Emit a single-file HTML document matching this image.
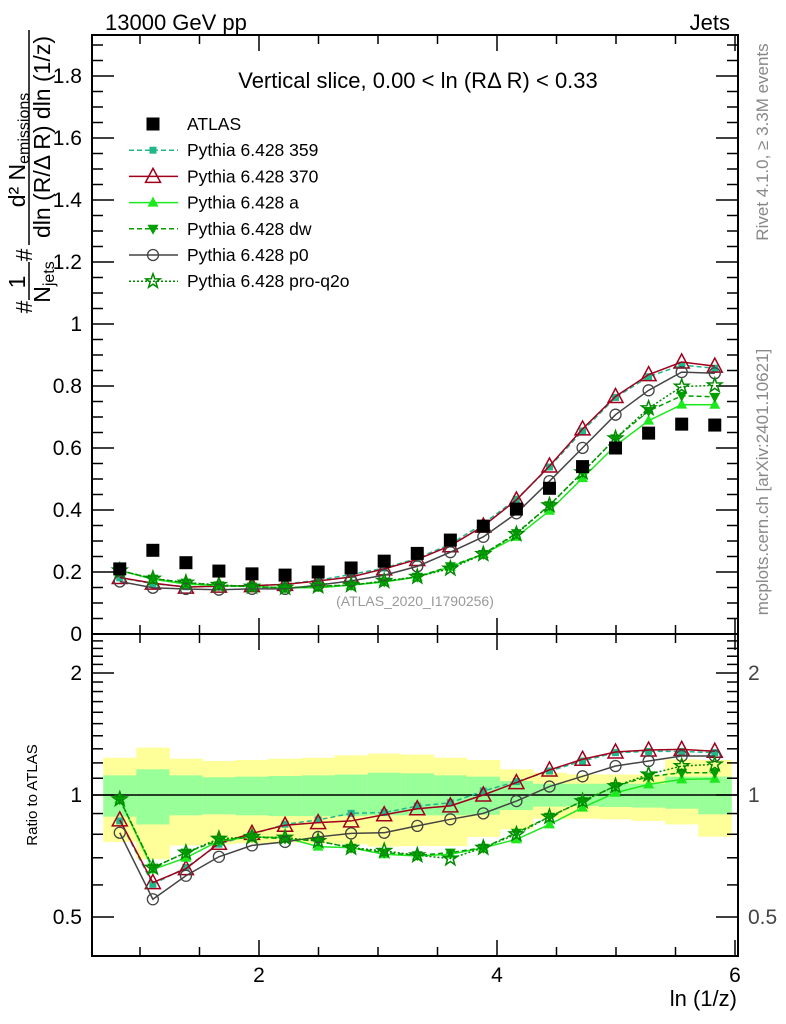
<!DOCTYPE html>
<html><head><meta charset="utf-8">
<style>
html,body{margin:0;padding:0;background:#fff;}
svg{display:block;font-family:"Liberation Sans",sans-serif;}
</style></head>
<body>
<svg id="chart" width="786" height="1024" viewBox="0 0 786 1024">
  <g id="bands"></g>
  <g id="axes"></g>
  <g id="series"></g>
  <text x="105" y="30" font-size="22">13000 GeV pp</text>
  <text x="730" y="30" font-size="22" text-anchor="end">Jets</text>
  <text x="418" y="88" font-size="22" text-anchor="middle">Vertical slice, 0.00 &lt; ln (RΔ R) &lt; 0.33</text>
  <text x="415" y="606" font-size="14" fill="#999" text-anchor="middle">(ATLAS_2020_I1790256)</text>
  <text transform="translate(768,142) rotate(-90)" font-size="17" fill="#888" text-anchor="middle">Rivet 4.1.0, ≥ 3.3M events</text>
  <text transform="translate(768,482) rotate(-90)" font-size="17" fill="#888" text-anchor="middle">mcplots.cern.ch [arXiv:2401.10621]</text>
  <g font-size="23">
    <text transform="translate(25,150) rotate(-90)" text-anchor="middle">d² N<tspan font-size="16" dy="4">emissions</tspan></text>
    <line x1="29" y1="30" x2="29" y2="245" stroke="#000" stroke-width="1.5"/>
    <text transform="translate(50,137) rotate(-90)" text-anchor="middle">dln (R/Δ R) dln (1/z)</text>
    <text transform="translate(32,255) rotate(-90)" text-anchor="middle">#</text>
    <text transform="translate(25,282) rotate(-90)" text-anchor="middle">1</text>
    <line x1="29" y1="262" x2="29" y2="300" stroke="#000" stroke-width="1.5"/>
    <text transform="translate(50,282) rotate(-90)" text-anchor="middle">N<tspan font-size="16" dy="4">jets</tspan></text>
    <text transform="translate(32,307) rotate(-90)" text-anchor="middle">#</text>
  </g>
  <text transform="translate(37,795) rotate(-90)" font-size="15" text-anchor="middle">Ratio to ATLAS</text>
  <text x="737" y="1006" font-size="22" text-anchor="end">ln (1/z)</text>
  <g id="legend"></g>
</svg>
<script>
const xPoints = [0.83,1.108,1.386,1.663,1.941,2.219,2.497,2.774,3.052,3.33,3.608,3.885,4.163,4.441,4.719,4.996,5.274,5.552,5.83];
const atlas = [0.21,0.27,0.23,0.203,0.194,0.19,0.2,0.213,0.235,0.26,0.303,0.348,0.403,0.47,0.54,0.6,0.648,0.677,0.674];
const r359 = [0.863,0.602,0.662,0.756,0.8,0.847,0.868,0.901,0.905,0.939,0.957,1.023,1.079,1.146,1.213,1.272,1.281,1.281,1.272];
const r370 = [0.868,0.608,0.658,0.76,0.804,0.842,0.855,0.863,0.894,0.925,0.94,1.0,1.073,1.153,1.225,1.277,1.291,1.296,1.282];
const rA = [0.976,0.655,0.7,0.77,0.788,0.785,0.746,0.741,0.714,0.707,0.714,0.741,0.777,0.846,0.931,1.013,1.062,1.093,1.097];
const rDW = [0.976,0.662,0.721,0.773,0.788,0.78,0.77,0.741,0.721,0.71,0.721,0.741,0.807,0.884,0.966,1.052,1.11,1.135,1.135];
const rP0 = [0.807,0.553,0.632,0.704,0.751,0.766,0.788,0.804,0.807,0.839,0.871,0.901,0.966,1.049,1.112,1.179,1.213,1.248,1.248];
const rQ2O = [0.976,0.662,0.721,0.78,0.788,0.785,0.77,0.741,0.728,0.71,0.697,0.741,0.8,0.884,0.966,1.052,1.124,1.179,1.19];
const yellowHi = [1.236,1.309,1.229,1.213,1.22,1.229,1.236,1.253,1.265,1.258,1.236,1.22,1.157,1.135,1.124,1.124,1.124,1.225,1.22];
const yellowLo = [0.766,0.694,0.751,0.756,0.76,0.763,0.76,0.756,0.746,0.748,0.748,0.788,0.823,0.874,0.874,0.871,0.863,0.846,0.789];
const greenHi = [1.118,1.157,1.118,1.106,1.11,1.114,1.118,1.123,1.135,1.131,1.118,1.11,1.083,1.066,1.066,1.066,1.066,1.11,1.11];
const greenLo = [0.884,0.846,0.891,0.896,0.891,0.887,0.887,0.887,0.891,0.891,0.891,0.894,0.918,0.936,0.939,0.934,0.931,0.925,0.896];
const mainTicks = [0,0.2,0.4,0.6,0.8,1,1.2,1.4,1.6,1.8];
const mainTickLabels = ["0","0.2","0.4","0.6","0.8","1","1.2","1.4","1.6","1.8"];
const ratioTicks = [0.5,1,2];
const ratioTickLabels = ["0.5","1","2"];
const xTicks = [2,4,6];
const xTickLabels = ["2","4","6"];

const NS="http://www.w3.org/2000/svg";
const L=92,R=738,T=35,MB=634,RB=956;
const binW=0.2777;
const X=v=>259+(v-2)*119;
const YM=v=>634-v*310;
const YR=v=>795-Math.log2(v)*122;
function mk(tag,attrs,parent){const e=document.createElementNS(NS,tag);for(const k in attrs)e.setAttribute(k,attrs[k]);parent.appendChild(e);return e;}

const bands=document.getElementById('bands');
for(let i=0;i<xPoints.length;i++){
  const x0=X(xPoints[i]-binW/2), x1=X(xPoints[i]+binW/2);
  const y=mk('rect',{x:x0,y:YR(yellowHi[i]),width:x1-x0+0.5,height:YR(yellowLo[i])-YR(yellowHi[i]),fill:'#ffff99'},bands);
  
  
  const g=mk('rect',{x:x0,y:YR(greenHi[i]),width:x1-x0+0.5,height:YR(greenLo[i])-YR(greenHi[i]),fill:'#99ff99'},bands);
  
  
}

const ax=document.getElementById('axes');
mk('rect',{x:L,y:T,width:R-L,height:MB-T,fill:'none',stroke:'#000','stroke-width':2},ax);
mk('rect',{x:L,y:MB,width:R-L,height:RB-MB,fill:'none',stroke:'#000','stroke-width':2},ax);
mk('line',{x1:L,y1:YR(1),x2:R,y2:YR(1),stroke:'#000','stroke-width':1.5},ax);
for(let v=1;v<=6.001;v+=0.5){
  const x=X(v); if(x<L||x>R)continue;
  const maj=Math.abs(v-Math.round(v))<1e-6&&Math.round(v)%2===0;
  const len=maj?16:9;
  [[T,1],[MB,-1],[MB,1],[RB,-1]].forEach(([y0,d])=>mk('line',{x1:x,y1:y0,x2:x,y2:y0+d*len,stroke:'#000','stroke-width':1.5},ax));
}
xTicks.forEach((v,i)=>{const t=mk('text',{x:X(v),y:982,'font-size':21,'text-anchor':'middle'},ax);t.textContent=xTickLabels[i];
  
  });
for(let k=0;k<=38;k++){
  const v=k*0.05,y=YM(v); if(y<T)continue;
  const len=(k%4===0)?22:11;
  mk('line',{x1:L,y1:y,x2:L+len,y2:y,stroke:'#000','stroke-width':1.5},ax);
  mk('line',{x1:R,y1:y,x2:R-len,y2:y,stroke:'#000','stroke-width':1.5},ax);
}
mainTicks.forEach((v,i)=>{const t=mk('text',{x:82,y:YM(v)+7,'font-size':21,'text-anchor':'end'},ax);t.textContent=mainTickLabels[i];
  
  });
const rt=[0.4,0.5,0.6,0.7,0.8,0.9,1,1.1,1.2,1.3,1.4,1.5,1.6,1.7,1.8,1.9,2,2.1,2.2,2.3,2.4];
rt.forEach(v=>{const y=YR(v); if(y<MB||y>RB)return;
  const len=(v===0.5||v===1||v===2)?22:11;
  mk('line',{x1:L,y1:y,x2:L+len,y2:y,stroke:'#000','stroke-width':1.5},ax);
  mk('line',{x1:R,y1:y,x2:R-len,y2:y,stroke:'#000','stroke-width':1.5},ax);});
ratioTicks.forEach((v,i)=>{
  const t=mk('text',{x:82,y:YR(v)+7,'font-size':21,'text-anchor':'end'},ax);t.textContent=ratioTickLabels[i];
  
  
  const t2=mk('text',{x:748,y:YR(v)+7,'font-size':21,'fill':'#444'},ax);t2.textContent=ratioTickLabels[i];
  
  });

function marker(g,type,x,y,c){
  if(type==='sq') mk('rect',{x:x-6.5,y:y-6.5,width:13,height:13,fill:'#000'},g);
  else if(type==='sqs') mk('rect',{x:x-3.5,y:y-3.5,width:7,height:7,fill:c},g);
  else if(type==='tri') mk('path',{d:`M${x},${y-8}L${x+7.5},${y+6}L${x-7.5},${y+6}Z`,fill:'none',stroke:c,'stroke-width':1.5},g);
  else if(type==='triu') mk('path',{d:`M${x},${y-6}L${x+5.5},${y+4}L${x-5.5},${y+4}Z`,fill:c},g);
  else if(type==='trid') mk('path',{d:`M${x},${y+6}L${x+5.5},${y-4}L${x-5.5},${y-4}Z`,fill:c},g);
  else if(type==='circ') mk('circle',{cx:x,cy:y,r:5.5,fill:'none',stroke:c,'stroke-width':1.3},g);
  else if(type==='star'){let d='';for(let k=0;k<10;k++){const a=-Math.PI/2+k*Math.PI/5,r=k%2?3:7.5;d+=(k?'L':'M')+(x+r*Math.cos(a)).toFixed(1)+','+(y+r*Math.sin(a)).toFixed(1);}mk('path',{d:d+'Z',fill:'none',stroke:c,'stroke-width':1.5},g);}
}
const seriesDefs=[
  {name:'359',r:r359,c:'#20b88a',dash:'5,3',m:'sqs'},
  {name:'370',r:r370,c:'#a0001c',dash:'',m:'tri'},
  {name:'a',r:rA,c:'#1ee81e',dash:'',m:'triu'},
  {name:'dw',r:rDW,c:'#00a000',dash:'5,3',m:'trid'},
  {name:'p0',r:rP0,c:'#444444',dash:'',m:'circ'},
  {name:'pro-q2o',r:rQ2O,c:'#008a00',dash:'2,2',m:'star'}
];
const sg=document.getElementById('series');
seriesDefs.forEach(s=>{
  const g=mk('g',{},sg);
  
  
  const main=s.r.map((v,i)=>v*atlas[i]);
  const pm=xPoints.map((x,i)=>X(x)+','+YM(main[i])).join(' ');
  const pr=xPoints.map((x,i)=>X(x)+','+YR(s.r[i])).join(' ');
  mk('polyline',{points:pm,fill:'none',stroke:s.c,'stroke-width':1.5,'stroke-dasharray':s.dash},g);
  mk('polyline',{points:pr,fill:'none',stroke:s.c,'stroke-width':1.5,'stroke-dasharray':s.dash},g);
  xPoints.forEach((x,i)=>{marker(g,s.m,X(x),YM(main[i]),s.c);marker(g,s.m,X(x),YR(s.r[i]),s.c);});
});
const ag=mk('g',{},sg);


xPoints.forEach((x,i)=>marker(ag,'sq',X(x),YM(atlas[i])));

const lg=document.getElementById('legend');
const legItems=[{t:'ATLAS',m:'sq'}].concat(seriesDefs.map(s=>({t:'Pythia 6.428 '+s.name,m:s.m,c:s.c,dash:s.dash})));
legItems.forEach((it,i)=>{
  const y=124+i*26.2;
  const g=mk('g',{},lg);
  
  
  if(it.m!=='sq') mk('line',{x1:129,y1:y,x2:178,y2:y,stroke:it.c,'stroke-width':1.5,'stroke-dasharray':it.dash},g);
  marker(g,it.m,153,y,it.c);
  const t=mk('text',{x:187,y:y+6,'font-size':17.5},g);t.textContent=it.t;
});
</script>
</body></html>
